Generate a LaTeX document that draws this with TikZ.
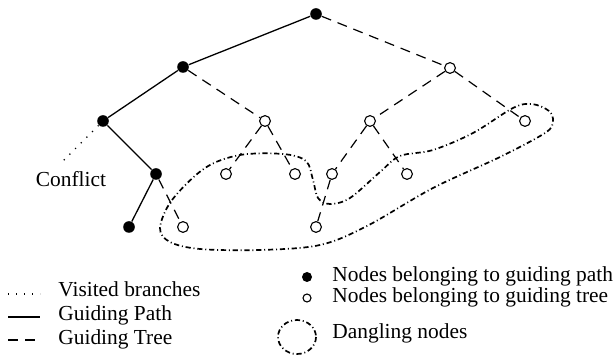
\documentclass[tikz,border=0pt]{standalone}
\usepackage{fontspec}
\setmainfont{Liberation Serif}
\begin{document}
\begin{tikzpicture}[x=0.5pt,y=-0.5pt,
  pathnode/.style={circle,fill=black,inner sep=0pt,minimum size=5.8pt},
  treenode/.style={circle,draw=black,line width=0.55pt,fill=white,inner sep=0pt,minimum size=5.4pt},
  pathedge/.style={line width=0.65pt},
  treeedge/.style={line width=0.6pt,dash pattern=on 5pt off 3.5pt},
  visited/.style={line width=0.7pt,dash pattern=on 0.6pt off 3.4pt},
  dangling/.style={line width=0.85pt,dash pattern=on 2.6pt off 1.4pt on 0.5pt off 1.4pt},
  lbl/.style={font=\fontsize{10.7}{12}\selectfont,inner sep=0pt}]
\useasboundingbox (0,0) rectangle (613,356);

% nodes on the guiding path
\node[pathnode] (r) at (316,14) {};
\node[pathnode] (a) at (183,67) {};
\node[pathnode] (b) at (103,121) {};
\node[pathnode] (c) at (156,174) {};
\node[pathnode] (d) at (129,227) {};

% nodes of the guiding tree
\node[treenode] (e) at (450,68) {};
\node[treenode] (f) at (265,121) {};
\node[treenode] (g) at (370,121) {};
\node[treenode] (h) at (525,121) {};
\node[treenode] (i) at (226,174) {};
\node[treenode] (j) at (295,174) {};
\node[treenode] (k) at (332,174) {};
\node[treenode] (l) at (407,174) {};
\node[treenode] (m) at (183,227) {};
\node[treenode] (n) at (316,227) {};

% guiding path
\draw[pathedge] (r) -- (a) -- (b) -- (c) -- (d);

% visited branch ending in a conflict
\coordinate (cf) at (62,162);
\draw[visited] (b) -- (cf);
\node[lbl,anchor=base] (conflict) at (71,187) {Conflict};

% guiding tree
\draw[treeedge] (r) -- (e);
\draw[treeedge] (a) -- (f);
\draw[treeedge] (e) -- (g);
\draw[treeedge] (e) -- (h);
\draw[treeedge] (f) -- (i);
\draw[treeedge] (f) -- (j);
\draw[treeedge] (g) -- (k);
\draw[treeedge] (g) -- (l);
\draw[treeedge] (c) -- (m);
\draw[treeedge] (k) -- (n);

% region enclosing the dangling nodes
\draw[dangling] plot[smooth cycle,tension=0.55] coordinates {
  (160,228) (172,200) (205,168) (240,155) (283,154) (306,161)
  (313,180) (318,198) (330,204) (350,198) (380,172) (400,156)
  (433,150) (473,133) (513,108) (532,104) (549,111) (553,122)
  (545,133) (500,157) (433,188) (367,226) (320,245) (260,250)
  (200,249) (170,242)};

% legend, left column
\draw[visited] (8,294) -- (40,294);
\node[lbl,anchor=base west] (lv) at (58,297) {Visited branches};
\draw[pathedge] (8,317) -- (40,317);
\node[lbl,anchor=base west] (lp) at (58,321) {Guiding Path};
\draw[treeedge] (8,340) -- (40,340);
\node[lbl,anchor=base west] (lt) at (58,344) {Guiding Tree};

% legend, right column
\node[pathnode,minimum size=5pt] (kp) at (307,277) {};
\node[lbl,anchor=base west] (lkp) at (332,282) {Nodes belonging to guiding path};
\node[treenode,minimum size=4pt] (kt) at (307,298) {};
\node[lbl,anchor=base west] (lkt) at (332,303) {Nodes belonging to guiding tree};
\draw[dangling] (297,337) ellipse [x radius=19,y radius=17];
\node[lbl,anchor=base west] (lkd) at (332,339) {Dangling nodes};
\end{tikzpicture}
\end{document}
